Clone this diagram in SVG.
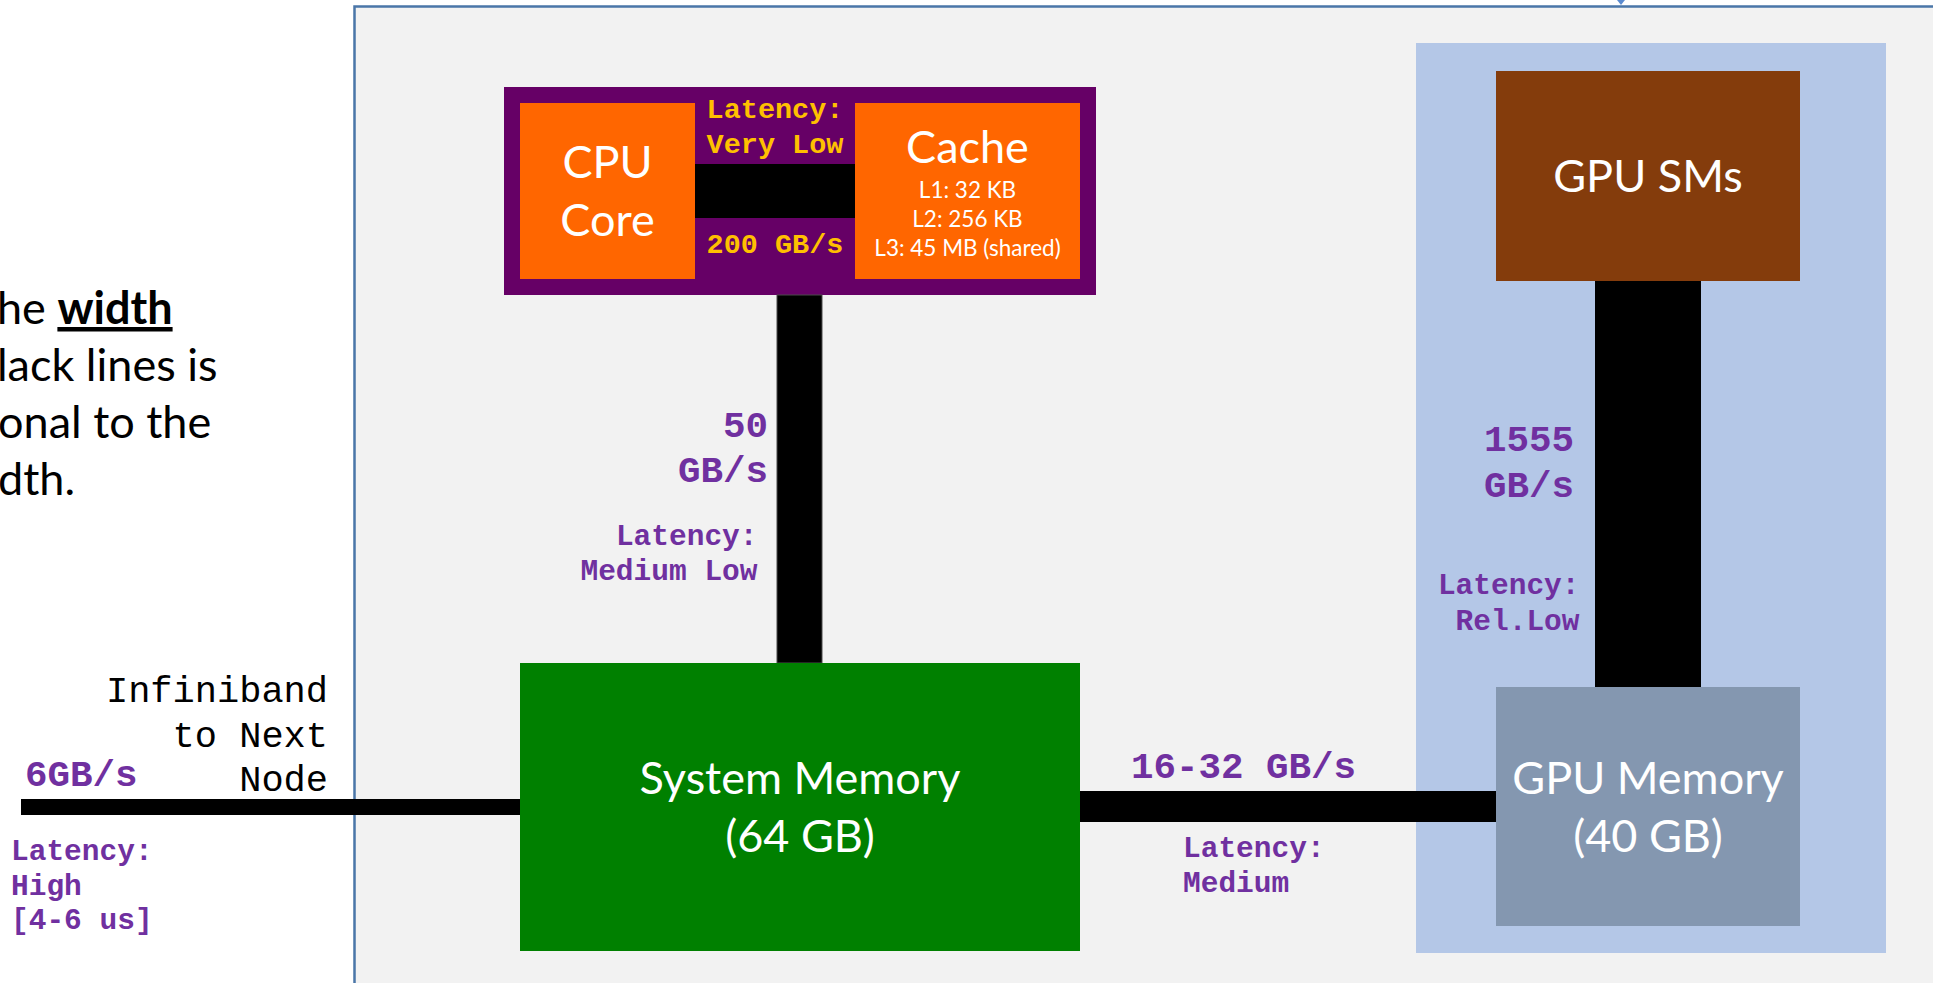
<svg xmlns="http://www.w3.org/2000/svg" width="1933" height="983" viewBox="0 0 1933 983">
  <style>
    .box-label { font-family: Lato, "Open Sans", "Liberation Sans", sans-serif; fill: #FFFFFF; text-anchor: middle; }
    .big { font-size: 45px; }
    .small { font-size: 22.5px; }
    .note { font-family: Lato, "Open Sans", "Liberation Sans", sans-serif; font-size: 45px; fill: #000000; }
    .mono { font-family: "Liberation Mono", "Courier New", monospace; }
    .bw { font-weight: bold; font-size: 37.5px; fill: #7030A0; }
    .lat { font-weight: bold; font-size: 29.5px; fill: #7030A0; }
    .yellow { font-weight: bold; font-size: 28.5px; fill: #FFC000; text-anchor: middle; }
    .plain { font-size: 37px; fill: #000000; text-anchor: end; }
    .bar { fill: #000000; }
  </style>

  <!-- page background -->
  <rect x="0" y="0" width="1933" height="983" fill="#FFFFFF"/>

  <!-- explanatory note on the left -->
  <g id="note">
    <text class="note" x="-3" y="324">he <tspan font-weight="bold" text-decoration="underline">width</tspan></text>
    <text class="note" x="-3" y="381">lack lines is</text>
    <text class="note" x="-2" y="438">onal to the</text>
    <text class="note" x="-2" y="495">dth.</text>
  </g>

  <!-- compute node enclosure -->
  <g id="node-frame">
    <rect x="354.5" y="6.5" width="1600" height="1000" fill="#F2F2F2" stroke="#4A76A8" stroke-width="2.5"/>
    <polygon points="1617,0 1625,0 1621,5" fill="#5B8BD0"/>
  </g>

  <!-- GPU package -->
  <g id="gpu-package">
    <rect x="1416" y="43" width="470" height="910" fill="#B4C7E7"/>
  </g>

  <!-- CPU package: purple carrier holding core and cache -->
  <g id="cpu-package">
    <rect x="504" y="87" width="592" height="208" fill="#660066"/>
  </g>

  <!-- links: bar thickness follows bandwidth -->
  <g id="connectors">
    <rect class="bar" x="695" y="164" width="160" height="54"/>
    <rect class="bar" x="777" y="295" width="45" height="368" stroke="#4a4a4a" stroke-width="1"/>
    <rect class="bar" x="1595" y="281" width="106" height="406"/>
    <rect class="bar" x="1080" y="791" width="416" height="31"/>
    <rect class="bar" x="21" y="799" width="499" height="16"/>

    <!-- core to cache -->
    <text class="mono yellow" x="775" y="118">Latency:</text>
    <text class="mono yellow" x="775" y="152.5">Very Low</text>
    <text class="mono yellow" x="775" y="252.5">200 GB/s</text>

    <!-- cpu package to system memory -->
    <text class="mono bw" x="768" y="436.5" text-anchor="end">50</text>
    <text class="mono bw" x="768" y="481.5" text-anchor="end">GB/s</text>
    <text class="mono lat" x="757.5" y="545" text-anchor="end">Latency:</text>
    <text class="mono lat" x="757.5" y="580" text-anchor="end">Medium Low</text>

    <!-- gpu SMs to gpu memory -->
    <text class="mono bw" x="1574" y="451" text-anchor="end">1555</text>
    <text class="mono bw" x="1574" y="497" text-anchor="end">GB/s</text>
    <text class="mono lat" x="1579.5" y="594" text-anchor="end">Latency:</text>
    <text class="mono lat" x="1579.5" y="629.5" text-anchor="end">Rel.Low</text>

    <!-- system memory to gpu memory -->
    <text class="mono bw" x="1131" y="778">16-32 GB/s</text>
    <text class="mono lat" x="1183" y="857">Latency:</text>
    <text class="mono lat" x="1183" y="892">Medium</text>

    <!-- network link -->
    <text class="mono plain" x="328" y="701.5">Infiniband</text>
    <text class="mono plain" x="328" y="746.5">to Next</text>
    <text class="mono plain" x="328" y="790.5">Node</text>
    <text class="mono bw" x="25" y="785.5">6GB/s</text>
    <text class="mono lat" x="11" y="860">Latency:</text>
    <text class="mono lat" x="11" y="894.5">High</text>
    <text class="mono lat" x="11" y="929">[4-6 us]</text>
  </g>

  <g id="cpu-core">
    <rect x="520" y="103" width="175" height="176" fill="#FF6600"/>
    <text class="box-label big" x="607.5" y="178">CPU</text>
    <text class="box-label big" x="607.5" y="235.5">Core</text>
  </g>

  <g id="cache">
    <rect x="855" y="103" width="225" height="176" fill="#FF6600"/>
    <text class="box-label big" x="967.5" y="163">Cache</text>
    <text class="box-label small" x="967.5" y="198">L1: 32 KB</text>
    <text class="box-label small" x="967.5" y="227">L2: 256 KB</text>
    <text class="box-label small" x="967.5" y="256">L3: 45 MB (shared)</text>
  </g>

  <g id="system-memory">
    <rect x="520" y="663" width="560" height="288" fill="#008000"/>
    <text class="box-label big" x="800" y="794">System Memory</text>
    <text class="box-label big" x="800" y="851.5">(64 GB)</text>
  </g>

  <g id="gpu-sms">
    <rect x="1496" y="71" width="304" height="210" fill="#843C0C"/>
    <text class="box-label big" x="1648" y="192">GPU SMs</text>
  </g>

  <g id="gpu-memory">
    <rect x="1496" y="687" width="304" height="239" fill="#8497B0"/>
    <text class="box-label big" x="1648" y="793.5">GPU Memory</text>
    <text class="box-label big" x="1648" y="851.5">(40 GB)</text>
  </g>
</svg>
